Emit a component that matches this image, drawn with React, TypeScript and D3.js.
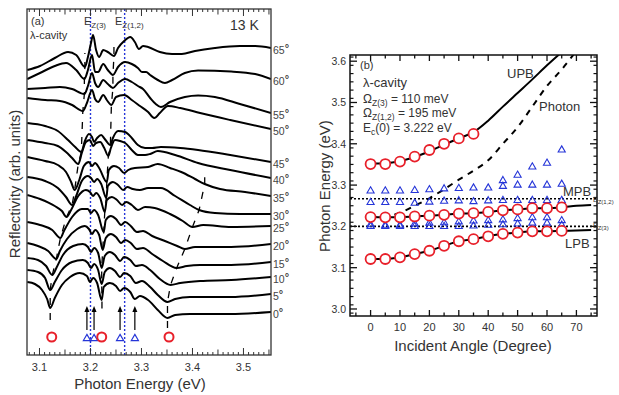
import React from 'react';
import * as d3 from 'd3';

// incident angles (deg) of the 14 spectra
const ANGLES = [0, 5, 10, 15, 20, 25, 30, 35, 40, 45, 50, 55, 60, 65];

// polariton branch energies (eV) vs angle
const LPB_E = [3.121, 3.121, 3.125, 3.133, 3.141, 3.153, 3.164, 3.169, 3.176, 3.182, 3.185, 3.188, 3.188, 3.189];
const MPB_E = [3.2225, 3.222, 3.222, 3.224, 3.226, 3.228, 3.231, 3.232, 3.235, 3.239, 3.241, 3.244, 3.244, 3.246];
const UPB_ANG = [0, 5, 10, 15, 20, 25, 30, 35];
const UPB_E = [3.351, 3.351, 3.357, 3.369, 3.385, 3.4, 3.413, 3.424];

// exciton-like features (triangles)
const TRI_A = [3.286, 3.286, 3.286, 3.287, 3.289, 3.291, 3.292, 3.293, 3.293, 3.297, 3.3, 3.3, 3.3, 3.302];
const TRI_B = [3.258, 3.258, 3.258, 3.256, 3.259, 3.261, 3.262, 3.26, 3.262, 3.263, 3.263, 3.263, 3.263, 3.263];
const TRI_C1 = [3.2, 3.2, 3.2, 3.2, 3.2, 3.2, 3.2, 3.201, 3.203, 3.204, 3.206, 3.208, 3.208, 3.203];
const TRI_C2 = [3.204, 3.203, 3.203, 3.206, 3.208, 3.209, 3.211, 3.213, 3.214, 3.216, 3.219, 3.221, 3.221, 3.214];
const TRI_HI_ANG = [45, 50, 55, 60, 65];
const TRI_HI_E = [3.311, 3.324, 3.344, 3.353, 3.385];

// fitted lines
const UPB_LINE_ANG = [0, 5, 10, 15, 20, 25, 30, 35, 40, 45, 50, 55, 60, 65];
const UPB_LINE_E = [3.352, 3.353, 3.358, 3.368, 3.382, 3.398, 3.413, 3.428, 3.456, 3.49, 3.523, 3.556, 3.59, 3.622];
const MPB_LINE_ANG = [...ANGLES, 70, 75];
const MPB_LINE_E = [...MPB_E, 3.25, 3.252];
const LPB_LINE_ANG = [...ANGLES, 70, 75];
const LPB_LINE_E = [...LPB_E, 3.19, 3.191];
const PHOTON_ANG = [0, 5, 10, 15, 20, 25, 30, 35, 40, 45, 50, 55, 60, 65, 70];
const PHOTON_E = [3.222, 3.224, 3.233, 3.25, 3.268, 3.29, 3.313, 3.335, 3.36, 3.4, 3.44, 3.49, 3.54, 3.58, 3.625];

const EZ3 = 3.2;
const EZ12 = 3.267;

// 0 deg mode energies marked under the spectra
const BOTTOM_CIRC_E = [3.124, 3.222, 3.354];
const BOTTOM_TRI_E = [3.193, 3.207, 3.258, 3.287];

// reflectivity spectra [energy eV, reflectivity arb. units incl. offset]
const spec0 = [[3.076, 73], [3.091, 71], [3.105, 65], [3.115, 56], [3.121, 47], [3.13, 57], [3.144, 70], [3.16, 78], [3.179, 82], [3.193, 79], [3.199, 73], [3.205, 77], [3.213, 72], [3.222, 55], [3.226, 68], [3.238, 72], [3.25, 69], [3.258, 64], [3.266, 67], [3.278, 63], [3.287, 56], [3.297, 59], [3.313, 55], [3.332, 45], [3.351, 37], [3.366, 40], [3.395, 41], [3.474, 41], [3.554, 43]];
const spec5 = [[3.076, 85], [3.097, 83], [3.111, 77], [3.121, 65], [3.13, 73], [3.144, 85], [3.164, 93], [3.185, 95], [3.195, 92], [3.201, 87], [3.207, 91], [3.215, 85], [3.222, 71], [3.228, 83], [3.238, 87], [3.248, 84], [3.258, 78], [3.266, 82], [3.278, 79], [3.289, 72], [3.301, 74], [3.317, 68], [3.332, 60], [3.351, 53], [3.366, 56], [3.395, 58], [3.474, 58], [3.554, 61]];
const spec10 = [[3.076, 97], [3.097, 95], [3.113, 89], [3.125, 80], [3.134, 88], [3.146, 100], [3.166, 109], [3.185, 111], [3.195, 108], [3.201, 103], [3.207, 107], [3.215, 102], [3.222, 87], [3.228, 99], [3.238, 103], [3.248, 100], [3.258, 94], [3.266, 98], [3.278, 95], [3.289, 89], [3.301, 90], [3.317, 85], [3.336, 76], [3.357, 70], [3.376, 72], [3.415, 74], [3.476, 75], [3.554, 78]];
const spec15 = [[3.076, 112], [3.097, 109], [3.117, 104], [3.133, 96], [3.14, 104], [3.154, 116], [3.174, 126], [3.189, 129], [3.197, 126], [3.203, 121], [3.209, 125], [3.217, 120], [3.224, 105], [3.23, 117], [3.24, 121], [3.25, 118], [3.26, 112], [3.268, 115], [3.279, 112], [3.291, 106], [3.303, 107], [3.321, 101], [3.342, 94], [3.369, 87], [3.389, 89], [3.415, 90], [3.476, 90], [3.554, 93]];
const spec20 = [[3.076, 133], [3.101, 130], [3.125, 125], [3.141, 117], [3.148, 124], [3.164, 138], [3.183, 146], [3.195, 146], [3.201, 142], [3.207, 145], [3.215, 140], [3.226, 123], [3.23, 135], [3.24, 139], [3.25, 136], [3.26, 130], [3.268, 133], [3.279, 129], [3.291, 123], [3.303, 124], [3.321, 119], [3.346, 114], [3.37, 109], [3.385, 106], [3.405, 108], [3.476, 108], [3.554, 111]];
const spec25 = [[3.076, 160], [3.101, 156], [3.13, 149], [3.144, 144], [3.153, 138], [3.162, 145], [3.176, 159], [3.191, 165], [3.199, 163], [3.205, 159], [3.211, 162], [3.219, 157], [3.228, 143], [3.232, 155], [3.242, 158], [3.252, 155], [3.262, 150], [3.27, 153], [3.281, 150], [3.293, 145], [3.307, 148], [3.326, 147], [3.356, 141], [3.381, 134], [3.4, 128], [3.421, 130], [3.476, 128], [3.554, 129]];
const spec30 = [[3.076, 178], [3.111, 174], [3.136, 167], [3.152, 158], [3.164, 150], [3.172, 159], [3.183, 174], [3.195, 179], [3.201, 177], [3.207, 173], [3.213, 176], [3.221, 171], [3.231, 157], [3.234, 169], [3.244, 173], [3.254, 170], [3.264, 165], [3.272, 168], [3.283, 166], [3.297, 165], [3.313, 167], [3.338, 167], [3.366, 159], [3.395, 150], [3.413, 145], [3.444, 142], [3.493, 141], [3.554, 141]];
const spec35 = [[3.076, 198], [3.111, 194], [3.136, 190], [3.152, 183], [3.162, 173], [3.169, 165], [3.178, 175], [3.187, 189], [3.197, 193], [3.203, 189], [3.209, 192], [3.217, 187], [3.232, 173], [3.236, 185], [3.246, 189], [3.256, 187], [3.266, 182], [3.274, 185], [3.287, 187], [3.313, 188], [3.332, 191], [3.356, 187], [3.378, 183], [3.405, 176], [3.424, 171], [3.454, 166], [3.503, 163], [3.554, 159]];
const spec40 = [[3.076, 215], [3.111, 212], [3.136, 209], [3.152, 203], [3.164, 197], [3.176, 191], [3.183, 202], [3.191, 213], [3.199, 215], [3.205, 209], [3.211, 212], [3.219, 213], [3.227, 207], [3.235, 199], [3.24, 207], [3.248, 215], [3.258, 214], [3.268, 212], [3.281, 205], [3.293, 200], [3.307, 200], [3.317, 201], [3.332, 204], [3.366, 200], [3.411, 192], [3.474, 185], [3.554, 177]];
const spec45 = [[3.076, 232], [3.111, 229], [3.136, 224], [3.156, 215], [3.17, 208], [3.182, 203], [3.189, 214], [3.197, 221], [3.203, 218], [3.207, 213], [3.213, 217], [3.221, 220], [3.228, 216], [3.239, 210], [3.244, 217], [3.254, 224], [3.268, 223], [3.281, 217], [3.293, 210], [3.307, 207], [3.321, 207], [3.338, 208], [3.376, 207], [3.411, 205], [3.474, 200], [3.554, 193]];
const spec50 = [[3.076, 257], [3.111, 255], [3.14, 254], [3.164, 250], [3.185, 244], [3.193, 252], [3.203, 265], [3.209, 256], [3.215, 253], [3.225, 260], [3.232, 255], [3.241, 250], [3.25, 258], [3.266, 260], [3.281, 255], [3.297, 249], [3.313, 243], [3.325, 237], [3.336, 242], [3.352, 249], [3.376, 247], [3.415, 242], [3.474, 235], [3.554, 226]];
const spec55 = [[3.076, 266], [3.111, 267], [3.14, 268], [3.164, 266], [3.188, 261], [3.195, 269], [3.203, 282], [3.209, 272], [3.215, 268], [3.225, 275], [3.234, 271], [3.244, 267], [3.254, 272], [3.268, 276], [3.281, 273], [3.293, 269], [3.303, 266], [3.317, 257], [3.328, 251], [3.338, 248], [3.356, 253], [3.385, 258], [3.411, 259.5], [3.444, 258], [3.493, 251], [3.554, 242]];
const spec60 = [[3.076, 276], [3.101, 282], [3.13, 289], [3.152, 292], [3.172, 285], [3.188, 276], [3.195, 285], [3.203, 300], [3.209, 283], [3.215, 283], [3.225, 291], [3.234, 285], [3.244, 280], [3.254, 288], [3.268, 293], [3.281, 291], [3.293, 287], [3.301, 283], [3.309, 283], [3.317, 280], [3.332, 275], [3.346, 272], [3.36, 275], [3.385, 282], [3.411, 284.5], [3.476, 283.5], [3.523, 281], [3.554, 276]];
const spec65 = [[3.076, 285], [3.101, 289], [3.13, 297], [3.156, 303], [3.172, 300], [3.189, 288], [3.195, 298], [3.201, 312], [3.205, 320], [3.211, 305], [3.217, 298], [3.225, 305], [3.234, 303], [3.246, 299], [3.254, 307], [3.266, 314], [3.278, 318], [3.287, 313], [3.295, 306], [3.303, 309], [3.313, 308], [3.336, 303], [3.36, 301], [3.379, 301], [3.405, 304], [3.444, 307], [3.493, 309], [3.523, 309], [3.554, 307]];

const SPECTRA = [spec0, spec5, spec10, spec15, spec20, spec25, spec30, spec35, spec40, spec45, spec50, spec55, spec60, spec65];

const A_TICKS = [3.1, 3.2, 3.3, 3.4, 3.5];
const B_XTICKS = [0, 10, 20, 30, 40, 50, 60, 70];
const B_YTICKS = [3.0, 3.1, 3.2, 3.3, 3.4, 3.5, 3.6];

const RED = '#e8202a';
const BLUE = '#2535d8';
const FONT = 'Liberation Sans, Arial, sans-serif';
const TXT = '#333';

// reflectivity at energy e, linear between read points
const valueAt = (spec: number[][], e: number) => {
  for (let i = 1; i < spec.length; i++) {
    if (e <= spec[i][0]) {
      const [e0, r0] = spec[i - 1];
      const [e1, r1] = spec[i];
      return r0 + ((r1 - r0) * (e - e0)) / (e1 - e0);
    }
  }
  return spec[spec.length - 1][1];
};

export default function App() {
  // panel (a)
  const xA = d3.scaleLinear().domain([3.0755, 3.554]).range([27, 271]);
  const yA = d3.scaleLinear().domain([0, 346]).range([355, 9]);
  const specLine = d3.line<number[]>().x(d => xA(d[0])).y(d => yA(d[1])).curve(d3.curveMonotoneX);
  const guide = d3.line<number[]>().x(d => xA(d[0])).y(d => yA(d[1]));

  const guidePts = (energies: number[], ext0: number, ext1: number) => {
    const pts = energies.map((e, i) => [e, valueAt(SPECTRA[i], e)]);
    const first = [pts[0][0], pts[0][1] - ext0];
    const last = [pts[pts.length - 1][0], pts[pts.length - 1][1] + ext1];
    return [first, ...pts, last];
  };

  const aTicks = d3.range(308, 356).map(v => v / 100);

  // panel (b)
  const xB = d3.scaleLinear().domain([-7, 77]).range([350, 597]);
  const yB = d3.scaleLinear().domain([2.983, 3.615]).range([316, 55]);
  const bLine = (ang: number[], en: number[]) =>
    d3.line<number>().x((_, i) => xB(ang[i])).y(d => yB(d)).curve(d3.curveMonotoneX)(en) || '';
  const tri = d3.symbol(d3.symbolTriangle, 22)() || '';

  const bXMinor = d3.range(-5, 80, 5);
  const bYMinor = d3.range(0, 32).map(i => 2.99 + i * 0.02).filter(v => v < 3.614);

  const triSets: { ang: number[]; en: number[] }[] = [
    { ang: ANGLES, en: TRI_A },
    { ang: ANGLES, en: TRI_B },
    { ang: ANGLES, en: TRI_C1 },
    { ang: ANGLES, en: TRI_C2 },
    { ang: TRI_HI_ANG, en: TRI_HI_E },
  ];

  return (
    <svg width={619} height={395} style={{ position: 'absolute', left: 0, top: 0, background: '#fff' }} fontFamily={FONT}>
      <defs>
        <clipPath id="clipA"><rect x={27} y={9} width={244} height={346} /></clipPath>
        <clipPath id="clipB"><rect x={350} y={55} width={247} height={261} /></clipPath>
      </defs>

      {/* ---------- panel (a) ---------- */}
      <g clipPath="url(#clipA)">
        {[EZ3, EZ12].map(e => (
          <line key={e} x1={xA(e)} x2={xA(e)} y1={9} y2={355} stroke={BLUE} strokeWidth={1.4} strokeDasharray="2,2" />
        ))}
        {SPECTRA.map((s, i) => (
          <path key={i} d={specLine(s) || ''} fill="none" stroke="#000" strokeWidth={2} />
        ))}
        <path d={guide(guidePts(LPB_E, 12, 14)) || ''} fill="none" stroke="#000" strokeWidth={1.3} strokeDasharray="7,8" />
        <path d={guide(guidePts(MPB_E, 10, 12)) || ''} fill="none" stroke="#000" strokeWidth={1.3} strokeDasharray="7,8" />
        <path d={guide(guidePts(UPB_E, 10, 12)) || ''} fill="none" stroke="#000" strokeWidth={1.3} strokeDasharray="7,8" />
      </g>

      {BOTTOM_TRI_E.map(e => (
        <g key={'ar' + e}>
          <line x1={xA(e)} x2={xA(e)} y1={330} y2={310} stroke="#000" strokeWidth={1.2} />
          <path d={`M${xA(e) - 2.5},${312} L${xA(e)},${306} L${xA(e) + 2.5},${312} Z`} fill="#000" />
          <path d={tri} transform={`translate(${xA(e)},${338.5})`} fill="none" stroke={BLUE} strokeWidth={1.2} />
        </g>
      ))}
      {BOTTOM_CIRC_E.map(e => (
        <circle key={'bc' + e} cx={xA(e)} cy={337} r={4.5} fill="none" stroke={RED} strokeWidth={2} />
      ))}

      <rect x={27} y={9} width={244} height={346} fill="none" stroke="#333" strokeWidth={1.3} />
      {aTicks.map(e => {
        const k = Math.round(e * 100);
        const len = k % 10 === 0 ? 7 : k % 5 === 0 ? 5.5 : 3;
        return (
          <g key={'at' + k} stroke="#333" strokeWidth={1}>
            <line x1={xA(e)} x2={xA(e)} y1={355} y2={355 - len} />
            <line x1={xA(e)} x2={xA(e)} y1={9} y2={9 + len} />
          </g>
        );
      })}
      {A_TICKS.map(t => (
        <text key={'atl' + t} x={xA(t)} y={371} fontSize={11} textAnchor="middle" fill={TXT}>{t.toFixed(1)}</text>
      ))}
      <text x={140} y={389} fontSize={15} textAnchor="middle" fill={TXT}>Photon Energy (eV)</text>
      <text transform="translate(20,184) rotate(-90)" fontSize={15} textAnchor="middle" fill={TXT}>Reflectivity (arb. units)</text>

      {ANGLES.map((a, i) => {
        const s = SPECTRA[i];
        return (
          <text key={'al' + a} x={273} y={yA(s[s.length - 1][1]) + 6} fontSize={10.5} fill="#444">
            {a}<tspan fontSize={11} fontWeight="bold" dy={-2}>°</tspan>
          </text>
        );
      })}

      <text x={31} y={25} fontSize={11} fill={TXT}>(a)</text>
      <text x={30} y={39} fontSize={11} fill={TXT}>λ-cavity</text>
      <text x={84} y={25} fontSize={11} fill={TXT}>E<tspan fontSize={8} dy={3}>Z(3)</tspan></text>
      <text x={115} y={25} fontSize={11} fill={TXT}>E<tspan fontSize={8} dy={3}>Z(1,2)</tspan></text>
      <text x={230} y={30} fontSize={14} fill={TXT}>13 K</text>

      {/* ---------- panel (b) ---------- */}
      <g clipPath="url(#clipB)">
        {[EZ12, EZ3].map(e => (
          <line key={'h' + e} x1={350} x2={597} y1={yB(e)} y2={yB(e)} stroke="#000" strokeWidth={1.6} strokeDasharray="2,2" />
        ))}
        <path d={bLine(PHOTON_ANG, PHOTON_E)} fill="none" stroke="#000" strokeWidth={2} strokeDasharray="6,6" />
        <path d={bLine(UPB_LINE_ANG, UPB_LINE_E)} fill="none" stroke="#000" strokeWidth={2} />
        <path d={bLine(MPB_LINE_ANG, MPB_LINE_E)} fill="none" stroke="#000" strokeWidth={2} />
        <path d={bLine(LPB_LINE_ANG, LPB_LINE_E)} fill="none" stroke="#000" strokeWidth={2} />
        {triSets.map((ts, k) =>
          ts.en.map((e, i) => (
            <path key={`t${k}-${i}`} d={tri} transform={`translate(${xB(ts.ang[i])},${yB(e)})`} fill="none" stroke={BLUE} strokeWidth={1.1} />
          ))
        )}
        {[LPB_E, MPB_E].map((en, k) =>
          en.map((e, i) => (
            <circle key={`c${k}-${i}`} cx={xB(ANGLES[i])} cy={yB(e)} r={5} fill="#fff" stroke={RED} strokeWidth={1.8} />
          ))
        )}
        {UPB_E.map((e, i) => (
          <circle key={'cu' + i} cx={xB(UPB_ANG[i])} cy={yB(e)} r={5} fill="#fff" stroke={RED} strokeWidth={1.8} />
        ))}
      </g>

      <rect x={350} y={55} width={247} height={261} fill="none" stroke="#111" strokeWidth={1.5} />
      {bXMinor.map(v => {
        const len = v % 10 === 0 ? 6 : 3.5;
        return (
          <g key={'bx' + v} stroke="#111" strokeWidth={1.3}>
            <line x1={xB(v)} x2={xB(v)} y1={316} y2={316 - len} />
            <line x1={xB(v)} x2={xB(v)} y1={55} y2={55 + len} />
          </g>
        );
      })}
      {bYMinor.map(v => (
        <g key={'bym' + v.toFixed(2)} stroke="#111" strokeWidth={1.2}>
          <line x1={350} x2={353.5} y1={yB(v)} y2={yB(v)} />
          <line x1={597} x2={593.5} y1={yB(v)} y2={yB(v)} />
        </g>
      ))}
      {B_YTICKS.map(v => (
        <g key={'by' + v}>
          <line x1={350} x2={357} y1={yB(v)} y2={yB(v)} stroke="#111" strokeWidth={1.3} />
          <line x1={597} x2={590} y1={yB(v)} y2={yB(v)} stroke="#111" strokeWidth={1.3} />
          <text x={346} y={yB(v) + 4} fontSize={10.5} textAnchor="end" fill={TXT}>{v.toFixed(1)}</text>
        </g>
      ))}
      {B_XTICKS.map(v => (
        <text key={'bxl' + v} x={xB(v)} y={331} fontSize={11} textAnchor="middle" fill={TXT}>{v}</text>
      ))}
      <text x={473} y={351} fontSize={15} textAnchor="middle" fill={TXT}>Incident Angle (Degree)</text>
      <text transform="translate(330,186) rotate(-90)" fontSize={15} textAnchor="middle" fill={TXT}>Photon Energy (eV)</text>

      <text x={360} y={69} fontSize={11} fill={TXT}>(b)</text>
      <text x={363} y={87} fontSize={13} fill={TXT}>λ-cavity</text>
      <text x={363} y={103} fontSize={12} fill={TXT}>Ω<tspan fontSize={8.5} dy={3}>Z(3)</tspan><tspan dy={-3}> = 110 meV</tspan></text>
      <text x={363} y={117} fontSize={12} fill={TXT}>Ω<tspan fontSize={8.5} dy={3}>Z(1,2)</tspan><tspan dy={-3}> = 195 meV</tspan></text>
      <text x={363} y={132} fontSize={12} fill={TXT}>E<tspan fontSize={8.5} dy={3}>c</tspan><tspan dy={-3}>(0) = 3.222 eV</tspan></text>
      <text x={507} y={78} fontSize={13} fill={TXT}>UPB</text>
      <text x={539} y={111} fontSize={13} fill={TXT}>Photon</text>
      <text x={563} y={196} fontSize={13} fill={TXT}>MPB</text>
      <text x={565} y={248} fontSize={13} fill={TXT}>LPB</text>
      <text x={593} y={202} fontSize={7} fill={TXT}>E<tspan fontSize={6} dy={2}>Z(1,2)</tspan></text>
      <text x={593} y={228} fontSize={7} fill={TXT}>E<tspan fontSize={6} dy={2}>Z(3)</tspan></text>
    </svg>
  );
}
